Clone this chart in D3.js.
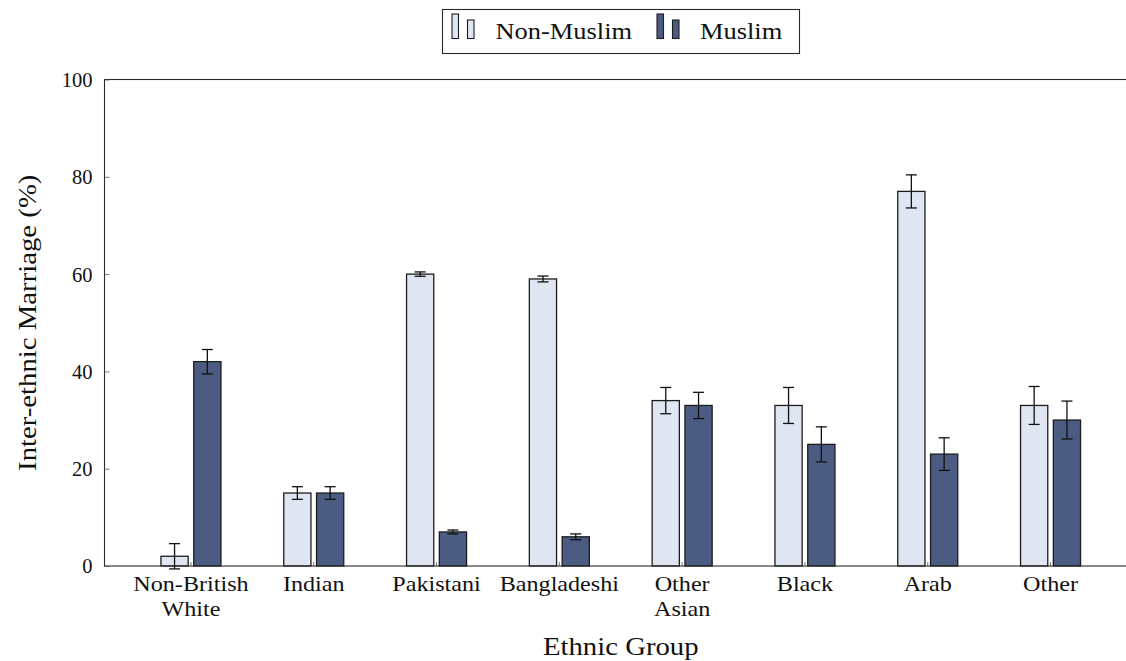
<!DOCTYPE html>
<html>
<head>
<meta charset="utf-8">
<script src="https://cdn.jsdelivr.net/npm/d3@7"></script>
<style>
  html, body { margin: 0; padding: 0; background: #fff; }
  svg { display: block; }
  svg text, svg tspan { font-family: "Liberation Serif", "Times New Roman", serif !important; fill: #111; }
</style>
</head>
<body>
<svg id="chart" width="1126" height="661" font-family="Liberation Serif, serif"></svg>
<script>
// Inter-ethnic marriage rates by ethnic group and religion
const categories = ["Non-British White", "Indian", "Pakistani", "Bangladeshi", "Other Asian", "Black", "Arab", "Other"];
const seriesNames = ["Non-Muslim", "Muslim"];
const nonMuslim = [2, 15, 60, 59, 34, 33, 77, 33];
const nonMuslimErr = [2.6, 1.3, 0.45, 0.6, 2.7, 3.7, 3.4, 3.9];
const muslim = [42, 15, 7, 6, 33, 25, 23, 30];
const muslimErr = [2.5, 1.3, 0.4, 0.6, 2.7, 3.6, 3.35, 3.9];
const yTicks = [0, 20, 40, 60, 80, 100];
const xTitle = "Ethnic Group";
const yTitle = "Inter-ethnic Marriage (%)";

const fills = { "Non-Muslim": "#dfe6f2", "Muslim": "#4b5b81" };
const serif = "Liberation Serif, serif";
const stretch = 1.15; // widen the serif glyphs a little

const svg = d3.select("#chart");
const plot = { left: 104.5, right: 1137, top: 79.5, bottom: 566 };

const x = d3.scaleBand()
  .domain(categories)
  .range([plot.left, plot.right])
  .paddingInner(0)
  .paddingOuter(0.204);

const xInner = d3.scaleBand()
  .domain(seriesNames)
  .range([-30, 30])
  .paddingInner(0.17);

const y = d3.scaleLinear().domain([0, 100]).range([plot.bottom, plot.top]);

const rows = categories.map((c, i) => ({
  category: c,
  bars: [
    { series: "Non-Muslim", value: nonMuslim[i], err: nonMuslimErr[i] },
    { series: "Muslim", value: muslim[i], err: muslimErr[i] }
  ]
}));

// Bars
const groups = svg.append("g")
  .selectAll("g")
  .data(rows)
  .join("g")
  .attr("transform", d => `translate(${x(d.category) + x.bandwidth() / 2},0)`);

groups.selectAll("rect")
  .data(d => d.bars)
  .join("rect")
  .attr("x", d => xInner(d.series))
  .attr("width", xInner.bandwidth())
  .attr("y", d => y(d.value))
  .attr("height", d => y(0) - y(d.value))
  .attr("fill", d => fills[d.series])
  .attr("stroke", "#1c1c1c")
  .attr("stroke-width", 1.3);

// Error bars
const eb = groups.selectAll("g.err")
  .data(d => d.bars)
  .join("g")
  .attr("class", "err")
  .attr("transform", d => `translate(${xInner(d.series) + xInner.bandwidth() / 2},0)`)
  .attr("stroke", "#111")
  .attr("stroke-width", 1.3);

eb.append("line")
  .attr("x1", 0).attr("x2", 0)
  .attr("y1", d => y(d.value + d.err))
  .attr("y2", d => y(d.value - d.err));
eb.append("line")
  .attr("x1", -5.5).attr("x2", 5.5)
  .attr("y1", d => y(d.value + d.err))
  .attr("y2", d => y(d.value + d.err));
eb.append("line")
  .attr("x1", -5.5).attr("x2", 5.5)
  .attr("y1", d => y(d.value - d.err))
  .attr("y2", d => y(d.value - d.err));

// Frame
svg.append("rect")
  .attr("x", plot.left).attr("y", plot.top)
  .attr("width", plot.right - plot.left)
  .attr("height", plot.bottom - plot.top)
  .attr("fill", "none")
  .attr("stroke", "#2a2a2a")
  .attr("stroke-width", 1.1);

// Y axis
const yAxis = svg.append("g")
  .attr("transform", `translate(${plot.left},0)`)
  .call(d3.axisLeft(y).tickValues(yTicks).tickSize(-5).tickPadding(12))
  .attr("font-family", serif);
yAxis.select(".domain").remove();
yAxis.selectAll(".tick line").attr("stroke", "#555").attr("stroke-width", 0.8);
yAxis.selectAll(".tick text")
  .attr("font-family", serif)
  .attr("font-size", 20.5)
  .attr("fill", "#111")
  .attr("dy", "0.34em");

// X axis
const xAxis = svg.append("g")
  .attr("transform", `translate(0,${plot.bottom})`)
  .call(d3.axisBottom(x).tickSize(-4).tickFormat(""))
  .attr("font-family", serif);
xAxis.select(".domain").remove();
xAxis.selectAll(".tick line").attr("stroke", "#555").attr("stroke-width", 0.8);
xAxis.selectAll(".tick text").remove();
xAxis.selectAll(".tick").each(function (c) {
  const t = d3.select(this).append("text")
    .attr("text-anchor", "middle")
    .attr("font-family", serif)
    .attr("font-size", 21)
    .attr("fill", "#111")
    .attr("transform", `scale(${stretch},1)`);
  c.split(" ").forEach((line, k) => {
    t.append("tspan").attr("x", 0).attr("y", 25 + k * 25).text(line);
  });
});

// Axis titles
const cx = (plot.left + plot.right) / 2;
svg.append("text")
  .attr("text-anchor", "middle")
  .attr("font-family", serif)
  .attr("font-size", 25)
  .attr("transform", `translate(${cx},655) scale(${stretch},1)`)
  .text(xTitle);

svg.append("text")
  .attr("text-anchor", "middle")
  .attr("font-family", serif)
  .attr("font-size", 25)
  .attr("transform", `translate(36,${(plot.top + plot.bottom) / 2}) rotate(-90) scale(${stretch},1)`)
  .text(yTitle);

// Legend
const legend = svg.append("g");
legend.append("rect")
  .attr("x", 442.5).attr("y", 9.5)
  .attr("width", 357).attr("height", 44)
  .attr("fill", "#fff")
  .attr("stroke", "#2a2a2a")
  .attr("stroke-width", 1.1);

const legendItems = [
  { name: seriesNames[0], sx: 452, tx: 495.5 },
  { name: seriesNames[1], sx: 657, tx: 700 }
];
legendItems.forEach(item => {
  const g = legend.append("g");
  g.append("rect")
    .attr("x", item.sx).attr("y", 14)
    .attr("width", 6.5).attr("height", 24.5)
    .attr("fill", fills[item.name]).attr("stroke", "#1c1c1c").attr("stroke-width", 1.1);
  g.append("rect")
    .attr("x", item.sx + 15.5).attr("y", 20)
    .attr("width", 6.5).attr("height", 18.5)
    .attr("fill", fills[item.name]).attr("stroke", "#1c1c1c").attr("stroke-width", 1.1);
  g.append("text")
    .attr("font-family", serif)
    .attr("font-size", 23)
    .attr("fill", "#111")
    .attr("transform", `translate(${item.tx},38.5) scale(${stretch},1)`)
    .text(item.name);
});
</script>
</body>
</html>
